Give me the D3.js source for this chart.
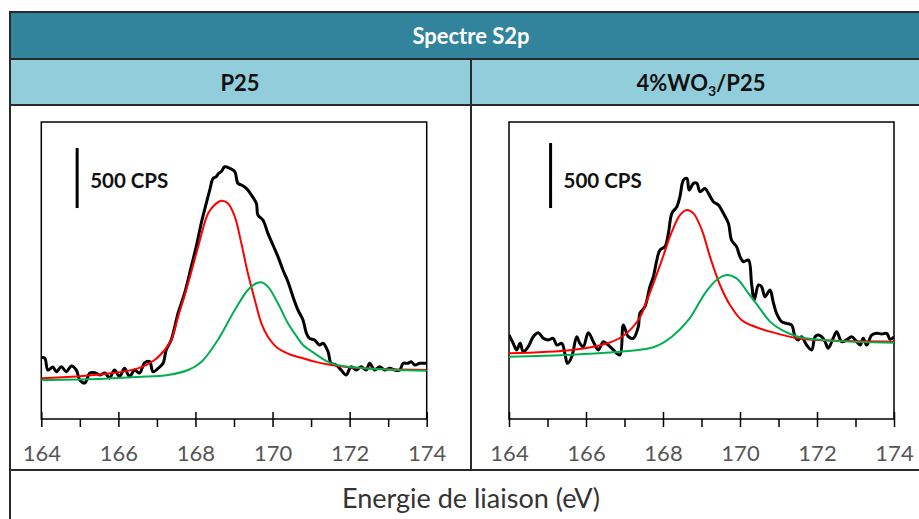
<!DOCTYPE html>
<html><head><meta charset="utf-8">
<script src="https://cdn.jsdelivr.net/npm/d3@7"></script>
<style>body{margin:0;background:#fff}svg{display:block}</style>
</head><body>
<svg id="c" width="919" height="519"></svg>
<script>
// ---- Data ----
const title = "Spectre S2p";
const panelNames = ["P25", "4%WO3/P25"];
const xLabel = "Energie de liaison (eV)";
const xTicks = [164, 166, 168, 170, 172, 174];
const xMinorTicks = [165, 167, 169, 171, 173];
const scaleBarLabel = "500 CPS";
const scaleBarCPS = 500;

// P25 : measured spectrum [eV, CPS]
const p25Measured = [
[164.00,512],[164.09,508],[164.17,408],[164.30,433],[164.39,394],[164.52,436],[164.65,394],[164.78,442],[164.91,408],[165.00,325],
[165.13,300],[165.26,383],[165.39,386],[165.52,367],[165.65,383],[165.77,342],[165.90,408],[166.03,353],[166.16,422],[166.29,353],
[166.42,408],[166.55,383],[166.68,467],[166.81,478],[166.90,394],[167.03,422],[167.16,464],[167.24,575],[167.37,658],[167.55,883],
[167.72,1050],[167.89,1269],[168.02,1436],[168.15,1631],[168.28,1797],[168.37,1908],[168.46,2006],[168.54,2019],[168.60,2047],[168.67,2061],
[168.76,2102],[168.89,2089],[169.02,2061],[169.10,1964],[169.19,1950],[169.32,1922],[169.45,1867],[169.58,1797],[169.62,1700],[169.75,1658],
[169.88,1547],[170.01,1450],[170.14,1353],[170.27,1242],[170.40,1144],[170.53,1019],[170.66,908],[170.79,825],[170.88,714],[170.96,672],
[171.09,658],[171.22,617],[171.31,631],[171.44,561],[171.52,464],[171.65,450],[171.78,408],[171.91,367],[172.04,436],[172.17,408],
[172.30,436],[172.43,408],[172.52,464],[172.65,408],[172.78,436],[172.91,408],[173.04,422],[173.17,408],[173.30,408],[173.39,464],
[173.51,464],[173.60,478],[173.69,450],[173.82,464],[174.00,464]];
// P25 : fit component 1 (red)
const p25Fit1 = [
[164.00,339],[165.65,375],[166.51,422],[166.94,492],[167.20,575],[167.37,658],[167.55,853],[167.81,1131],[168.07,1436],[168.33,1714],
[168.54,1797],[168.67,1819],[168.84,1797],[169.02,1686],[169.19,1464],[169.36,1214],[169.54,992],[169.71,797],[169.88,686],[170.14,589],
[170.49,533],[170.79,506],[171.09,478],[171.52,450],[172.39,422],[174.00,408]];
// P25 : fit component 2 (green)
const p25Fit2 = [
[164.00,325],[165.65,336],[166.51,350],[167.29,367],[167.81,408],[168.16,478],[168.58,658],[169.02,908],[169.36,1075],[169.58,1131],
[169.71,1139],[169.88,1103],[170.14,964],[170.40,797],[170.66,672],[170.79,617],[171.09,547],[171.52,464],[172.39,422],[174.00,403]];

// 4%WO3/P25 : measured spectrum
const wo3Measured = [
[164.00,646],[164.11,582],[164.20,531],[164.29,582],[164.37,518],[164.50,556],[164.63,633],[164.76,664],[164.89,621],[165.02,608],
[165.15,621],[165.24,569],[165.37,582],[165.45,505],[165.52,428],[165.63,479],[165.76,633],[165.84,582],[165.93,556],[166.06,664],
[166.19,595],[166.32,531],[166.45,595],[166.58,569],[166.71,531],[166.88,492],[166.97,723],[167.10,633],[167.23,621],[167.36,710],
[167.40,813],[167.53,864],[167.66,1018],[167.75,1095],[167.84,1223],[167.92,1300],[168.05,1326],[168.14,1428],[168.23,1582],[168.36,1633],
[168.44,1710],[168.53,1838],[168.62,1851],[168.68,1761],[168.79,1813],[168.88,1813],[168.96,1749],[169.09,1774],[169.18,1736],[169.31,1672],
[169.44,1646],[169.57,1582],[169.70,1505],[169.78,1377],[169.91,1326],[170.00,1249],[170.09,1210],[170.22,1223],[170.30,1044],[170.37,915],
[170.48,1031],[170.56,1018],[170.65,941],[170.78,992],[170.86,903],[170.95,813],[171.08,749],[171.21,736],[171.34,723],[171.43,633],
[171.51,608],[171.60,633],[171.73,569],[171.86,531],[171.95,633],[172.03,646],[172.12,633],[172.21,595],[172.29,544],[172.42,621],
[172.51,672],[172.64,595],[172.77,608],[172.90,633],[173.03,595],[173.12,569],[173.20,621],[173.29,569],[173.42,646],[173.55,659],
[173.68,654],[173.81,659],[173.90,613],[174.00,633]];
const wo3Fit1 = [
[164.00,505],[165.63,531],[166.49,577],[166.93,633],[167.36,762],[167.62,941],[167.97,1223],[168.23,1441],[168.44,1569],[168.62,1608],
[168.79,1582],[169.01,1454],[169.22,1249],[169.48,1031],[169.74,877],[170.04,762],[170.39,710],[170.78,672],[171.51,621],[172.38,603],[174.00,595]];
const wo3Fit2 = [
[164.00,479],[165.63,495],[167.36,531],[167.79,556],[168.23,633],[168.66,762],[169.09,967],[169.39,1069],[169.65,1108],[169.91,1082],
[170.22,967],[170.48,864],[170.78,749],[171.08,685],[171.51,633],[172.38,603],[174.00,587]];

// scale bar anchor [eV, CPS at bottom of bar]
const p25Bar = [164.93, 1758];
const wo3Bar = [165.08, 1623];
const p25YMax = 2475, wo3YMax = 2285;

const panels = [
  {name: panelNames[0], measured: p25Measured, fit1: p25Fit1, fit2: p25Fit2, bar: p25Bar, ymax: p25YMax, x0: 41.3, x1: 426.7},
  {name: panelNames[1], measured: wo3Measured, fit1: wo3Fit1, fit2: wo3Fit2, bar: wo3Bar, ymax: wo3YMax, x0: 509, x1: 894}
];

// ---- Drawing ----
const svg = d3.select("#c");
const font = "Lato, 'Open Sans', sans-serif";
const border = "#2a2a2a";
const tableL = 10, tableR = 940, yTop = 12, yH1 = 59, yH2 = 105, yPlot = 470, yBot = 540, xDiv = 471;

svg.append("rect").attr("x", tableL).attr("y", yTop).attr("width", tableR - tableL).attr("height", yH1 - yTop).attr("fill", "#31849B");
svg.append("rect").attr("x", tableL).attr("y", yH1).attr("width", tableR - tableL).attr("height", yH2 - yH1).attr("fill", "#92CDDC");

svg.append("text").attr("x", xDiv).attr("y", 44).attr("text-anchor", "middle")
  .attr("font-family", font).attr("font-weight", 700).attr("font-size", 22).attr("fill", "#fff").text(title);

// panel headers
svg.append("text").attr("x", 240).attr("y", 91).attr("text-anchor", "middle")
  .attr("font-family", font).attr("font-weight", 700).attr("font-size", 22).attr("fill", "#111").text(panelNames[0]);
const h2 = svg.append("text").attr("x", 701).attr("y", 91).attr("text-anchor", "middle")
  .attr("font-family", font).attr("font-weight", 700).attr("font-size", 22).attr("fill", "#111");
{
  const m = panelNames[1].match(/^(.*WO)(3)(.*)$/);
  h2.append("tspan").text(m[1]);
  h2.append("tspan").attr("font-size", 14).attr("dy", 5).text(m[2]);
  h2.append("tspan").attr("dy", -5).text(m[3]);
}

// table grid lines
const g = svg.append("g").attr("stroke", border).attr("stroke-width", 2).attr("fill", "none");
g.append("rect").attr("x", tableL).attr("y", yTop).attr("width", tableR - tableL).attr("height", yBot - yTop);
[yH1, yH2, yPlot].forEach(y => g.append("line").attr("x1", tableL).attr("x2", tableR).attr("y1", y).attr("y2", y));
g.append("line").attr("x1", xDiv).attr("x2", xDiv).attr("y1", yH1).attr("y2", yPlot);

svg.append("text").attr("x", xDiv).attr("y", 508).attr("text-anchor", "middle")
  .attr("font-family", font).attr("font-size", 27).attr("fill", "#333").text(xLabel);

const yTopPlot = 122, yAxis = 419;
panels.forEach(p => {
  const x = d3.scaleLinear().domain([164, 174]).range([p.x0, p.x1]);
  const y = d3.scaleLinear().domain([0, p.ymax]).range([yAxis, yTopPlot]);
  const pg = svg.append("g");

  // frame
  pg.append("rect").attr("x", p.x0).attr("y", yTopPlot).attr("width", p.x1 - p.x0).attr("height", yAxis - yTopPlot)
    .attr("fill", "none").attr("stroke", "#000").attr("stroke-width", 1.5);

  // clip
  const id = "clip" + Math.round(p.x0);
  svg.append("clipPath").attr("id", id).append("rect").attr("x", p.x0).attr("y", yTopPlot).attr("width", p.x1 - p.x0).attr("height", yAxis - yTopPlot);

  const lineFit = d3.line().x(d => x(d[0])).y(d => y(d[1])).curve(d3.curveCatmullRom.alpha(0.5));
  const lineMeas = d3.line().x(d => x(d[0])).y(d => y(d[1])).curve(d3.curveCatmullRom.alpha(0.5));
  const cg = pg.append("g").attr("clip-path", `url(#${id})`);
  cg.append("path").datum(p.measured).attr("d", lineMeas).attr("fill", "none").attr("stroke", "#000").attr("stroke-width", 3).attr("stroke-linejoin", "round");
  cg.append("path").datum(p.fit1).attr("d", lineFit).attr("fill", "none").attr("stroke", "#FF0000").attr("stroke-width", 2);
  cg.append("path").datum(p.fit2).attr("d", lineFit).attr("fill", "none").attr("stroke", "#00B050").attr("stroke-width", 2);

  // axis
  const ax = pg.append("g").attr("transform", `translate(0,${yAxis})`)
    .call(d3.axisBottom(x).tickValues(xTicks).tickSize(8).tickPadding(18).tickFormat(d3.format("d")));
  ax.select(".domain").remove();
  ax.selectAll(".tick line").attr("stroke", "#000").attr("stroke-width", 1.5).attr("y1", -7);
  ax.selectAll(".tick text").attr("font-family", font).attr("font-size", 22).attr("fill", "#555");
  const mx = pg.append("g").attr("transform", `translate(0,${yAxis})`)
    .call(d3.axisBottom(x).tickValues(xMinorTicks).tickSize(8).tickFormat(""));
  mx.select(".domain").remove();
  mx.selectAll(".tick line").attr("stroke", "#000").attr("stroke-width", 1.5);

  // scale bar
  pg.append("line").attr("x1", x(p.bar[0])).attr("x2", x(p.bar[0]))
    .attr("y1", y(p.bar[1])).attr("y2", y(p.bar[1] + scaleBarCPS)).attr("stroke", "#000").attr("stroke-width", 3);
  pg.append("text").attr("x", x(p.bar[0]) + 13).attr("y", 188)
    .attr("font-family", font).attr("font-weight", 700).attr("font-size", 20.5).attr("fill", "#111").text(scaleBarLabel);
});
</script>
</body></html>
